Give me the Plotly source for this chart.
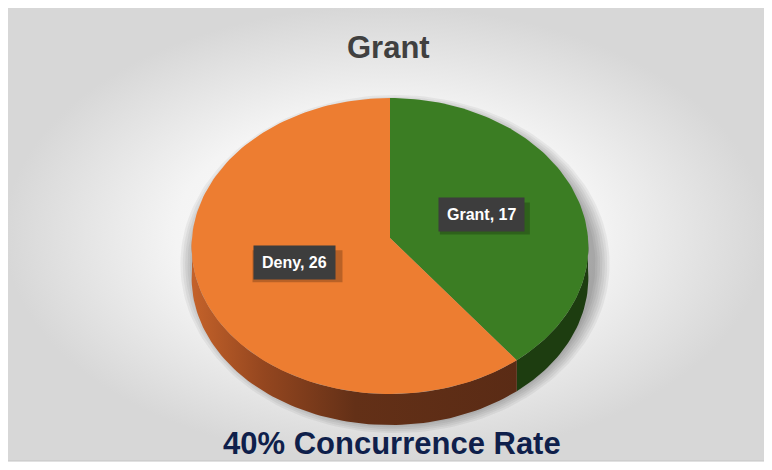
import math
import plotly.graph_objects as go

# ---- data ----
labels = ["Grant", "Deny"]
values = [17, 26]
chart_title = "Grant"
footer = "40% Concurrence Rate"

# ---- style / layout constants ----
W, H = 772, 470
OFF = 8                    # page body margin of the written html
CX, CY = 390, 238          # pie centre (page pixel units)
RX, RY, PK = 198, 148, 8   # radii and perspective bulge
DEPTH = 31                 # thickness of the 3D side
top_colors = {"Grant": "#3b7d23", "Deny": "#ed7d31"}
side_colors = {"Grant": "#1d3d10", "Deny": "#6a3218"}


def pt(theta_deg, depth=0.0, scale=1.0):
    t = math.radians(theta_deg)
    x = CX + scale * RX * math.sin(t) * (1 - 0.06 * math.cos(t))
    y = CY + scale * (-RY * math.cos(t) + PK * math.cos(t) ** 2) + depth
    return x, y


def arc(a0, a1, depth=0.0, n=None):
    n = n or max(8, int(abs(a1 - a0) / 1.5))
    return [pt(a0 + (a1 - a0) * i / n, depth) for i in range(n + 1)]


fig = go.Figure()

# background panel with radial gradient
fx0, fy0, fx1, fy1 = 4, 6, 767, 461
fig.add_trace(go.Scatter(
    x=[fx0, fx1, fx1, fx0, fx0], y=[fy0, fy0, fy1, fy1, fy0],
    mode="lines", line=dict(width=1, color="#c4c4c4"), fill="toself",
    fillcolor="#e8e8e8",
    fillgradient=dict(type="radial",
                      colorscale=[[0, "#ffffff"], [0.55, "#f4f4f4"], [1, "#d7d7d7"]]),
    hoverinfo="skip", showlegend=False))

# soft shadow under the pie
for k in range(7):
    grow = 1 + 0.012 * (7 - k)
    xs, ys = [], []
    for i in range(181):
        t = math.radians(2 * i)
        xs.append(CX + 5 + grow * RX * math.sin(t))
        ys.append(CY + 26 + grow * (-(RY + 8) * math.cos(t)))
    fig.add_trace(go.Scatter(x=xs, y=ys, mode="lines", line=dict(width=0),
                             fill="toself", fillcolor="rgba(0,0,0,0.05)",
                             hoverinfo="skip", showlegend=False))

# slice angles from the data
total = sum(values)
angles = []
acc = 0
for v in values:
    a0 = acc / total * 360
    acc += v
    angles.append((a0, acc / total * 360))

# sides (front half only: 90..270 deg)
for lab, (a0, a1) in zip(labels, angles):
    s0, s1 = max(a0, 90), min(a1, 270)
    if s1 <= s0:
        continue
    top = arc(s0, s1)
    bot = arc(s1, s0, DEPTH)
    poly = top + bot + [top[0]]
    kw = {}
    if lab == "Deny":
        kw["fillgradient"] = dict(type="horizontal", start=CX - RX, stop=CX + 0.65 * RX,
                                  colorscale=[[0, "#c4622a"], [0.22, "#94461f"],
                                              [0.5, "#633017"], [1, "#5a2b15"]])
    fig.add_trace(go.Scatter(x=[p[0] for p in poly], y=[p[1] for p in poly],
                             mode="lines", line=dict(width=0), fill="toself",
                             fillcolor=side_colors[lab], hoverinfo="skip",
                             showlegend=False, **kw))

# top faces
for lab, (a0, a1) in zip(labels, angles):
    poly = [(CX, CY)] + arc(a0, a1) + [(CX, CY)]
    fig.add_trace(go.Scatter(x=[p[0] for p in poly], y=[p[1] for p in poly],
                             mode="lines", line=dict(width=0), fill="toself",
                             fillcolor=top_colors[lab], hoverinfo="skip",
                             showlegend=False))

# data labels (with a soft drop shadow behind the box)
for lab, v, (a0, a1) in zip(labels, values, angles):
    lx, ly = pt((a0 + a1) / 2, 0, 0.5)
    fig.add_shape(type="rect", x0=lx - 42, x1=lx + 48, y0=ly - 12, y1=ly + 20,
                  fillcolor="rgba(0,0,0,0.22)", line=dict(width=0), layer="above")
    fig.add_annotation(x=lx, y=ly, text=f"<b>{lab}, {v}</b>", showarrow=False,
                       font=dict(family="Liberation Sans", size=16, color="#ffffff"),
                       bgcolor="#3d3d3d", borderpad=8)

fig.add_annotation(x=388, y=47, text=f"<b>{chart_title}</b>", showarrow=False,
                   font=dict(family="Liberation Sans", size=31, color="#404040"))
fig.add_annotation(x=392, y=443, text=f"<b>{footer}</b>", showarrow=False,
                   font=dict(family="Liberation Sans", size=31, color="#0f1f4b"))

fig.update_xaxes(range=[OFF, W], visible=False, fixedrange=True)
fig.update_yaxes(range=[H, OFF], visible=False, fixedrange=True)
fig.update_layout(width=W - OFF, height=H - OFF, margin=dict(l=0, r=0, t=0, b=0),
                  paper_bgcolor="#ffffff", plot_bgcolor="rgba(0,0,0,0)",
                  showlegend=False, hovermode=False)

fig.write_html("out.html")
